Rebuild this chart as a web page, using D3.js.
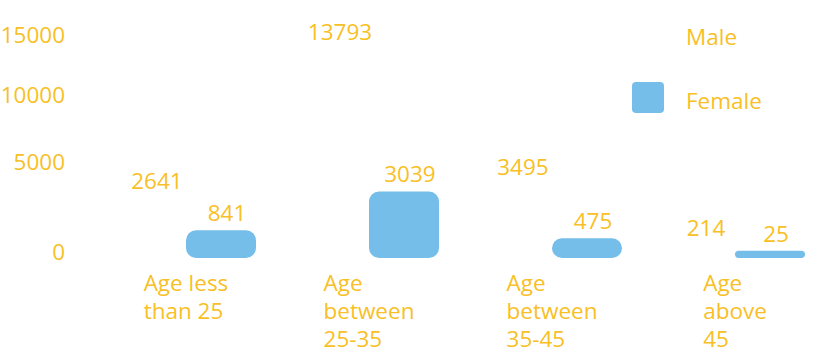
<!DOCTYPE html>
<html>
<head>
<meta charset="utf-8">
<script src="https://cdn.jsdelivr.net/npm/d3@7"></script>
<style>
  body { margin: 0; background: #ffffff; }
  text { font-family: "Open Sans", sans-serif; fill: #f8bf26; }
</style>
</head>
<body>
<div id="chart"></div>
<script>
// data
const categories = ["Age less than 25", "Age between 25-35", "Age between 35-45", "Age above 45"];
const seriesNames = ["Male", "Female"];
const maleValues = [2641, 13793, 3495, 214];
const femaleValues = [841, 3039, 475, 25];
const yTicks = [0, 5000, 10000, 15000];

const colors = { Male: "#ffffff", Female: "#74bee9" };

let width = 827, height = 355;
let fontSize = 22.5;

let rows = categories.map((c, i) => ({
  category: c,
  Male: maleValues[i],
  Female: femaleValues[i]
}));

let svg = d3.select("#chart").append("svg")
  .attr("width", width)
  .attr("height", height);

let x0 = d3.scaleBand()
  .domain(categories)
  .range([116, 805])
  .paddingInner(0.235);

let x1 = d3.scaleBand()
  .domain(seriesNames)
  .range([0, x0.bandwidth()]);

// axis ticks are not evenly spaced in the picture, a pow scale fits them
let y = d3.scalePow().exponent(0.8)
  .domain([0, 15000])
  .range([252, 35]);

// y axis, labels only
let yAxis = svg.append("g")
  .attr("transform", "translate(74,0)")
  .call(d3.axisLeft(y).tickValues(yTicks).tickSize(0).tickPadding(9).tickFormat(d3.format("d")));
yAxis.select(".domain").remove();
yAxis.selectAll("text")
  .attr("font-family", "Open Sans, sans-serif")
  .attr("font-size", fontSize)
  .attr("fill", "#f8bf26");

let groups = svg.selectAll(".group")
  .data(rows)
  .enter().append("g")
  .attr("class", "group")
  .attr("transform", d => "translate(" + x0(d.category) + ",0)");

let bars = groups.selectAll("g.bar")
  .data(d => seriesNames.map(k => ({ key: k, value: d[k] })))
  .enter().append("g")
  .attr("class", "bar");

bars.append("rect")
  .attr("x", d => x1(d.key))
  .attr("width", x1.bandwidth())
  .attr("y", d => y(d.value))
  .attr("height", d => y(0) - y(d.value) + 6)
  .attr("rx", d => Math.min(10, (y(0) - y(d.value) + 6) / 2))
  .attr("fill", d => colors[d.key]);

bars.append("text")
  .attr("x", d => x1(d.key) + x1.bandwidth() / 2 + 6)
  .attr("y", d => y(d.value) - 9)
  .attr("text-anchor", "middle")
  .attr("font-size", fontSize)
  .text(d => d.value);

// category labels, wrapped, lines left aligned
let cat = svg.selectAll(".cat")
  .data(categories)
  .enter().append("text")
  .attr("class", "cat")
  .attr("font-size", fontSize)
  .attr("y", 291);

cat.each(function(d) {
  let el = d3.select(this);
  let words = d.split(" ");
  let lines = [];
  let line = [];
  let probe = el.append("tspan");
  words.forEach(w => {
    let test = line.concat([w]).join(" ");
    probe.text(test);
    if (probe.node().getComputedTextLength() > 92 && line.length) {
      lines.push(line.join(" "));
      line = [w];
    } else {
      line.push(w);
    }
  });
  lines.push(line.join(" "));
  let maxW = 0;
  lines.forEach(l => {
    probe.text(l);
    maxW = Math.max(maxW, probe.node().getComputedTextLength());
  });
  probe.remove();
  let left = x0(d) + x0.bandwidth() / 2 - maxW / 2;
  lines.forEach((l, i) => {
    el.append("tspan")
      .attr("x", left)
      .attr("y", 291 + i * 28)
      .text(l);
  });
});

// legend
let legend = svg.selectAll(".legend")
  .data(seriesNames)
  .enter().append("g")
  .attr("class", "legend")
  .attr("transform", (d, i) => "translate(632," + (18 + i * 64) + ")");

legend.append("rect")
  .attr("width", 32)
  .attr("height", 31)
  .attr("rx", 4)
  .attr("fill", d => colors[d]);

legend.append("text")
  .attr("x", 54)
  .attr("y", 19)
  .attr("dy", "0.35em")
  .attr("font-size", fontSize)
  .text(d => d);
</script>
</body>
</html>
